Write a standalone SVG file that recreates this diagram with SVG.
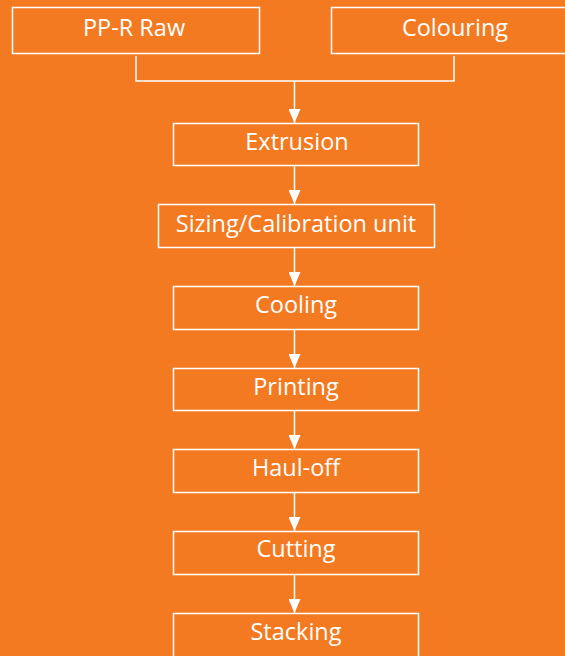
<svg xmlns="http://www.w3.org/2000/svg" width="565" height="656" viewBox="0 0 565 656">
<style>
.box{fill:none;stroke:#fff;stroke-width:1.5}
.lbl{fill:#fff;font-family:"Open Sans","Liberation Sans",sans-serif;font-size:23.5px;text-anchor:middle}
.con{fill:none;stroke:#fff;stroke-width:1.5}
</style>
<defs>
<marker id="ah" markerWidth="14" markerHeight="12" refX="14" refY="6" orient="auto" markerUnits="userSpaceOnUse" viewBox="0 0 14 12">
<path d="M0,0 L14,6 L0,12 Z" fill="#fff"/>
</marker>
</defs>
<rect width="565" height="656" fill="#F47A22"/>
<g id="connectors">
<path class="con" d="M136,56 V81 H454 V56"/>
<path class="con" d="M294.5,81 V123" marker-end="url(#ah)"/>
<path class="con" d="M294.5,166 V204" marker-end="url(#ah)"/>
<path class="con" d="M294.5,248 V286" marker-end="url(#ah)"/>
<path class="con" d="M294.5,330 V368" marker-end="url(#ah)"/>
<path class="con" d="M294.5,411 V449" marker-end="url(#ah)"/>
<path class="con" d="M294.5,493 V531" marker-end="url(#ah)"/>
<path class="con" d="M294.5,575 V613" marker-end="url(#ah)"/>
</g>
<g id="pp-r-raw"><rect class="box" x="12.5" y="7.5" width="247" height="46"/><text class="lbl" x="134" y="36">PP-R Raw</text></g>
<g id="colouring"><rect class="box" x="331.5" y="7.5" width="240" height="46"/><text class="lbl" x="455" y="36">Colouring</text></g>
<g id="extrusion"><rect class="box" x="173.5" y="123.5" width="245" height="42"/><text class="lbl" x="297" y="150">Extrusion</text></g>
<g id="sizing"><rect class="box" x="158.5" y="204.5" width="276" height="43"/><text class="lbl" x="296" y="232">Sizing/Calibration unit</text></g>
<g id="cooling"><rect class="box" x="173.5" y="286.5" width="245" height="43"/><text class="lbl" x="296" y="313">Cooling</text></g>
<g id="printing"><rect class="box" x="173.5" y="368.5" width="245" height="42"/><text class="lbl" x="296" y="395">Printing</text></g>
<g id="haul-off"><rect class="box" x="173.5" y="449.5" width="245" height="43"/><text class="lbl" x="296" y="476">Haul-off</text></g>
<g id="cutting"><rect class="box" x="173.5" y="531.5" width="245" height="43"/><text class="lbl" x="296" y="557">Cutting</text></g>
<g id="stacking"><rect class="box" x="173.5" y="613.5" width="245" height="50"/><text class="lbl" x="296" y="640">Stacking</text></g>
</svg>
